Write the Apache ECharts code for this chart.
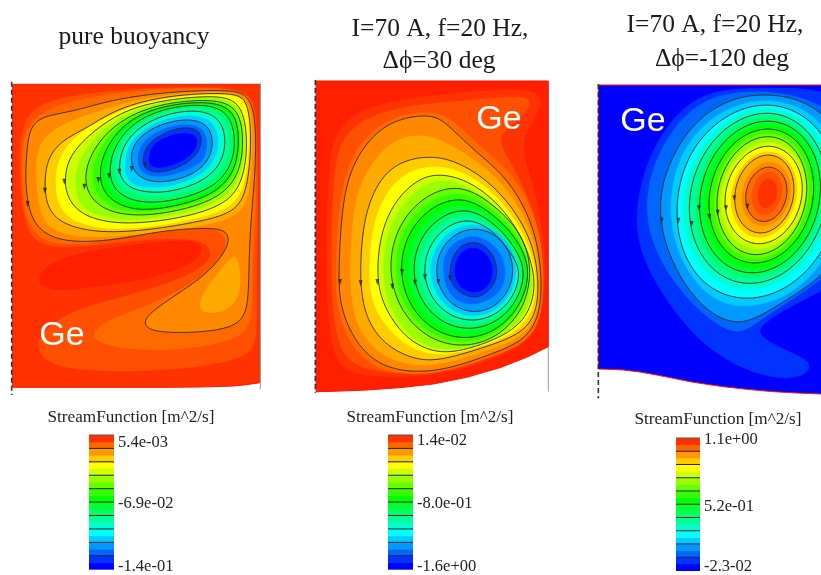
<!DOCTYPE html>
<html><head><meta charset="utf-8">
<style>html,body{margin:0;padding:0;background:#fff}#main{width:821px;height:575px;filter:blur(0.75px)}</style>
<script src="https://cdn.jsdelivr.net/npm/echarts@6/dist/echarts.min.js"></script>
</head><body><div id="main"></div>
<script>
// stream-function band palette: band index -> colour
const bandPalette=['#0000ff','#0033ff','#0066ff','#0099ff','#00ccff','#00ffff','#00ffcc','#00ff99','#00ff66','#00ff33','#00ff00','#33ff00','#66ff00','#99ff00','#ccff00','#ffff00','#ffcc00','#ffaa00','#ff8800','#ff6a00','#ff4f00','#ff3300','#ff2000'];
const colorbarBands=['#0000ff','#0033ff','#0066ff','#0099ff','#00ccff','#00ffff','#00ffcc','#00ff99','#00ff66','#00ff33','#00ff00','#33ff00','#66ff00','#99ff00','#ccff00','#ffff00','#ffcc00','#ff9900','#ff6600','#ff3300'];
const colorbarIndex=colorbarBands.map((c,i)=>i);

// outlines of the melt domain
const outline1=[[38,43],[780,43],[780,938],[740,944],[700,948],[600,951],[500,952],[38,952]];
const outline2=[[48,33],[745,33],[745,830],[680,862],[600,893],[500,922],[400,942],[300,953],[200,960],[100,964],[48,965]];
const outline3=[[25,45],[800,45],[800,978],[693,972],[620,969],[550,965],[470,958],[400,950],[350,943],[300,935],[250,925],[200,915],[150,906],[100,900],[60,898],[25,897]];
const baseLevels=[21,22,0];

// filled contours [band, isStreamline, points]
const contours1=[
[20,0,[[60,130],[180,75],[450,52],[745,48],[772,120],[776,400],[768,700],[775,840],[700,875],[500,905],[200,905],[115,860],[110,800],[200,725],[350,685],[560,625],[650,560],[610,500],[400,510],[150,545],[70,490],[58,300]]],
[22,0,[[112,615],[165,565],[330,530],[565,505],[612,525],[600,570],[485,620],[300,650],[175,665],[118,650]]],
[19,0,[[75,180],[130,115],[300,72],[500,55],[740,52],[768,110],[771,400],[755,600],[760,770],[700,815],[500,848],[300,830],[268,790],[330,745],[480,695],[640,600],[692,520],[650,465],[480,478],[280,522],[150,525],[90,480],[68,400],[64,250]]],
[18,1,[[80,250],[88,175],[125,138],[220,125],[330,90],[500,65],[700,58],[748,78],[768,150],[767,300],[752,450],[746,600],[745,725],[705,772],[600,788],[470,788],[430,768],[440,735],[520,680],[625,610],[688,530],[685,485],[640,472],[500,480],[400,500],[280,517],[170,512],[105,470],[82,400],[76,320]]],
[17,0,[[710,540],[725,620],[715,700],[650,735],[590,725],[610,660],[670,590]]],
[17,0,[[105,290],[118,205],[200,155],[290,125],[400,90],[540,68],[710,62],[752,100],[760,220],[752,350],[730,435],[610,470],[450,490],[300,505],[170,495],[115,440]]],
[16,1,[[133,360],[138,270],[185,210],[260,175],[350,115],[500,75],[700,66],[745,90],[755,210],[745,340],[715,425],[600,455],[450,480],[300,490],[190,465],[145,420]]],
[15,0,[[165,350],[170,270],[220,200],[300,150],[410,100],[560,75],[705,70],[745,100],[750,210],[738,340],[700,415],[580,450],[430,475],[310,480],[210,452],[175,405]]],
[14,1,[[192,335],[205,260],[270,190],[370,120],[500,88],[650,75],[725,95],[745,210],[730,340],[670,410],[520,450],[360,465],[250,440],[205,390]]],
[13,0,[[222,340],[235,265],[300,180],[400,118],[520,88],[640,78],[722,98],[740,210],[725,330],[660,400],[515,440],[370,455],[265,430],[235,395]]],
[12,1,[[250,345],[265,260],[330,170],[450,105],[620,85],[715,105],[733,210],[718,320],[650,390],[510,430],[380,440],[290,410]]],
[11,0,[[272,335],[285,255],[350,160],[470,105],[625,88],[710,112],[727,210],[712,315],[645,382],[515,420],[390,432],[305,400]]],
[10,1,[[295,325],[310,240],[380,150],[490,105],[630,92],[705,120],[720,210],[705,310],[640,375],[520,412],[400,425],[320,385]]],
[9,0,[[310,318],[325,235],[390,152],[495,108],[625,96],[698,125],[714,210],[700,300],[640,365],[520,403],[405,412],[332,375]]],
[8,1,[[325,310],[340,230],[400,155],[500,112],[620,100],[690,130],[708,210],[695,290],[640,355],[520,395],[410,400],[345,365]]],
[7,0,[[340,300],[355,225],[415,158],[510,118],[615,110],[678,140],[694,215],[678,290],[620,348],[510,382],[410,382],[355,350]]],
[6,1,[[355,290],[370,220],[430,160],[520,125],[610,120],[665,150],[680,220],[660,290],[600,340],[500,370],[410,365],[365,335]]],
[4,0,[[372,280],[385,220],[440,168],[525,136],[605,135],[650,165],[660,230],[635,292],[570,335],[480,355],[408,352],[378,325]]],
[3,1,[[390,270],[400,220],[450,175],[530,148],[600,150],[635,180],[640,240],[610,295],[540,330],[460,340],[405,315]]],
[2,0,[[410,270],[420,222],[470,182],[540,160],[598,165],[622,198],[622,250],[598,285],[535,312],[465,325],[420,305]]],
[1,1,[[428,270],[438,225],[490,188],[550,170],[598,178],[608,215],[588,262],[530,297],[470,310],[433,297]]],
[0,0,[[445,265],[455,225],[500,198],[555,186],[590,195],[595,228],[565,265],[515,288],[470,296],[448,285]]]
];
const contours2=[
[21,0,[[85,280],[105,180],[190,110],[350,80],[500,65],[680,55],[720,75],[725,110],[690,170],[660,230],[700,340],[735,500],[735,700],[700,810],[600,860],[480,905],[300,925],[150,915],[90,860],[75,600]]],
[20,0,[[100,300],[125,200],[210,130],[370,100],[520,90],[660,75],[695,90],[680,130],[620,175],[590,215],[650,300],[725,480],[732,700],[690,805],[590,855],[470,895],[300,915],[160,895],[105,820],[90,600]]],
[19,0,[[105,620],[115,400],[150,255],[235,160],[330,128],[410,125],[460,150],[540,230],[640,310],[710,440],[730,560],[732,720],[690,815],[585,858],[455,902],[330,918],[210,895],[135,800],[110,700]]],
[18,1,[[115,620],[125,400],[160,270],[240,170],[330,138],[400,136],[440,160],[520,240],[620,320],[690,440],[722,560],[727,720],[680,810],[580,850],[450,897],[330,910],[220,880],[150,790],[120,700]]],
[17,0,[[150,620],[155,430],[190,310],[270,210],[360,190],[430,210],[530,270],[625,355],[690,470],[718,580],[720,720],[675,800],[570,840],[440,882],[340,890],[240,860],[175,780],[155,700]]],
[16,1,[[180,600],[190,440],[240,320],[310,270],[390,258],[460,270],[550,320],[630,400],[690,500],[715,600],[715,720],[670,790],[560,830],[430,870],[350,872],[260,830],[205,760],[185,680]]],
[15,0,[[205,610],[215,465],[262,355],[332,298],[405,286],[480,300],[565,352],[640,435],[692,535],[712,630],[700,730],[640,795],[530,835],[420,860],[335,840],[258,775],[215,700]]],
[14,1,[[228,630],[240,490],[285,390],[355,325],[420,310],[500,330],[580,385],[650,470],[695,570],[708,660],[680,745],[610,800],[500,840],[410,852],[320,810],[255,720]]],
[13,0,[[245,610],[258,490],[305,405],[370,340],[430,328],[508,348],[585,405],[650,485],[692,580],[702,660],[672,745],[600,805],[495,838],[405,842],[325,800],[265,710]]],
[12,1,[[263,588],[293,464],[374,373],[485,340],[590,410],[665,490],[697,590],[677,712],[596,803],[485,836],[374,803],[293,712]]],
[11,0,[[279,591],[307,474],[385,388],[490,357],[590,425],[655,495],[693,591],[673,708],[595,794],[490,825],[385,794],[307,708]]],
[10,1,[[296,594],[323,485],[396,405],[495,376],[590,440],[650,505],[694,594],[667,703],[594,783],[495,812],[396,783],[323,703]]],
[9,0,[[315,596],[340,495],[408,420],[501,393],[590,450],[645,515],[687,596],[662,697],[594,772],[501,799],[408,772],[340,697]]],
[8,1,[[335,597],[358,504],[421,436],[507,411],[590,465],[640,525],[679,597],[656,690],[593,758],[507,783],[421,758],[358,690]]],
[7,0,[[351,598],[372,513],[431,450],[511,427],[590,478],[635,535],[671,598],[650,683],[591,746],[511,769],[431,746],[372,683]]],
[6,1,[[368,600],[388,522],[442,464],[516,443],[588,490],[630,545],[664,600],[644,678],[590,736],[516,757],[442,736],[388,678]]],
[4,0,[[386,601],[404,530],[453,477],[520,458],[587,477],[636,530],[654,601],[636,672],[587,725],[520,744],[453,725],[404,672]]],
[3,1,[[405,601],[421,537],[465,489],[524,472],[583,489],[627,537],[643,601],[627,665],[583,713],[524,730],[465,713],[421,665]]],
[2,0,[[428,610],[430,565],[448,530],[478,508],[515,495],[555,505],[592,535],[612,570],[618,610],[610,650],[585,680],[545,700],[505,705],[468,692],[440,660]]],
[1,1,[[448,625],[452,575],[470,540],[495,520],[525,515],[560,528],[585,565],[592,605],[585,640],[560,670],[525,685],[490,675],[462,652]]],
[0,0,[[462,605],[468,568],[490,540],[522,530],[552,542],[575,575],[580,605],[572,638],[550,662],[520,670],[488,658],[470,635]]]
];
const contours3=[
[1,0,[[135,470],[150,330],[210,190],[300,90],[400,55],[560,52],[760,60],[800,200],[800,600],[693,665],[600,710],[520,760],[500,790],[560,830],[650,865],[665,895],[630,925],[540,925],[430,885],[320,810],[220,680],[160,570]]],
[2,0,[[165,450],[175,320],[235,190],[320,100],[420,65],[560,62],[700,100],[800,190],[800,540],[693,630],[590,700],[510,750],[460,790],[400,780],[300,700],[210,580]]],
[3,1,[[208,420],[218,330],[265,220],[340,130],[440,80],[530,72],[620,84],[700,130],[760,200],[790,330],[780,500],[700,620],[590,690],[500,745],[440,762],[370,738],[290,660],[224,530]]],
[4,0,[[232,395],[272,235],[385,118],[528,80],[665,118],[750,235],[770,395],[722,555],[610,680],[455,722],[345,680],[258,555]]],
[5,1,[[253,395],[294,244],[399,133],[530,92],[653,133],[736,244],[755,395],[706,546],[601,657],[470,698],[347,657],[270,546]]],
[6,0,[[271,387],[316,246],[412,142],[531,104],[644,142],[718,246],[735,387],[690,528],[594,632],[475,670],[362,632],[288,528]]],
[7,1,[[290,385],[332,252],[421,154],[532,118],[635,154],[704,252],[720,385],[678,518],[589,616],[478,652],[375,616],[306,518]]],
[8,0,[[310,383],[349,257],[428,165],[532,131],[628,165],[691,257],[704,383],[665,509],[586,601],[482,635],[386,601],[323,509]]],
[9,1,[[322,381],[359,262],[437,175],[534,143],[625,175],[685,262],[698,381],[661,500],[583,587],[486,619],[395,587],[335,500]]],
[10,0,[[340,380],[374,268],[445,185],[534,155],[617,185],[672,268],[684,380],[650,492],[579,575],[490,605],[407,575],[352,492]]],
[11,1,[[351,378],[383,273],[450,196],[535,168],[613,196],[665,273],[677,378],[645,483],[577,560],[493,588],[414,560],[363,483]]],
[12,0,[[368,378],[398,280],[458,208],[535,181],[606,208],[652,280],[662,378],[632,476],[572,548],[495,575],[424,548],[378,476]]],
[13,1,[[376,377],[404,285],[462,217],[534,192],[602,217],[646,285],[655,377],[628,469],[570,537],[497,562],[430,537],[386,469]]],
[14,0,[[387,377],[413,293],[468,232],[537,209],[601,232],[644,293],[653,377],[627,461],[572,522],[503,545],[439,522],[396,461]]],
[15,1,[[401,375],[425,299],[474,243],[536,222],[594,243],[633,299],[641,375],[617,451],[568,507],[506,528],[448,507],[409,451]]],
[16,0,[[419,374],[440,307],[483,257],[535,239],[586,257],[618,307],[625,374],[604,441],[561,491],[508,509],[459,491],[426,441]]],
[17,1,[[431,372],[449,311],[488,266],[535,250],[580,266],[609,311],[615,372],[597,433],[558,478],[511,494],[466,478],[437,433]]],
[18,0,[[453,372],[468,322],[500,285],[539,272],[576,285],[600,322],[605,372],[590,422],[558,459],[519,472],[482,459],[458,422]]],
[19,1,[[465,373],[478,330],[504,299],[537,288],[568,299],[589,330],[593,373],[580,415],[554,447],[520,458],[490,447],[469,415]]],
[20,0,[[482,370],[495,336],[512,311],[537,302],[561,311],[575,336],[578,370],[565,404],[548,429],[523,438],[499,429],[486,404]]],
[21,0,[[502,370],[510,347],[521,330],[537,324],[551,330],[560,347],[562,370],[556,393],[543,410],[527,416],[513,410],[504,393]]]
];

// flow-direction arrows on the streamlines
const arrows1=[[83,402],[135,362],[193,335],[253,350],[295,330],[327,318],[358,305],[395,297],[435,285]];
const arrows2=[[120,636],[182,640],[232,636],[277,650],[306,606],[345,638],[375,622],[415,636],[450,625]];
const arrows3=[[215,452],[265,452],[305,462],[327,415],[358,440],[383,428],[408,415],[433,385],[472,410]];

// solid/dashed walls
const leftWall1=[[35,35],[35,975]], rightWall1=[[781,38],[781,958]];
const leftWall2=[[46,30],[46,968]], rightWall2=[[745,830],[745,965]];
const leftWall3=[[25,42],[25,985]];

const panelTitles=[['pure buoyancy'],['I=70 A, f=20 Hz,','Δϕ=30 deg'],['I=70 A, f=20 Hz,','Δϕ=-120 deg']];
const barTitle='StreamFunction [m^2/s]';
const barTickValues=[[0.4,9.8,18.8],[0.4,9.7,19.1],[0.6,9.7,19.7]];
const barTickLabels=[['-1.4e-01','-6.9e-02','5.4e-03'],['-1.6e+00','-8.0e-01','1.4e-02'],['-2.3-02','5.2e-01','1.1e+00']];
const materialLabel='Ge';

const SERIF='"Liberation Serif","Times New Roman",serif';
const panels=[
 {rect:[0,70,275,330],xMax:825,outline:outline1,contours:contours1,arrows:arrows1,walls:[leftWall1],grey:[rightWall1]},
 {rect:[300,70,260,330],xMax:780,outline:outline2,contours:contours2,arrows:arrows2,walls:[leftWall2],grey:[rightWall2]},
 {rect:[590,70,231,330],xMax:693,outline:outline3,contours:contours3,arrows:arrows3,walls:[leftWall3],grey:[]}
];
const barRects=[[89,435,25,138],[388,435,25,138],[676,438,24,138]];

// closed cubic B-spline subdivision, drawing only: turns a traced contour into a smooth curve
function smoothClosed(pts){
 let p=pts;
 for(let it=0;it<3;it++){
  const n=p.length,o=[];
  for(let i=0;i<n;i++){
   const a=p[(i+n-1)%n],b=p[i],c=p[(i+1)%n];
   o.push([(a[0]+6*b[0]+c[0])/8,(a[1]+6*b[1]+c[1])/8]);
   o.push([(b[0]+c[0])/2,(b[1]+c[1])/2]);
  }
  p=o;
 }
 return p;
}

const grid=[],xAxis=[],yAxis=[],series=[],title=[];
panels.forEach((p,i)=>{
 grid.push({left:p.rect[0],top:p.rect[1],width:p.rect[2],height:p.rect[3],show:false});
 xAxis.push({type:'value',gridIndex:i,min:0,max:p.xMax,show:false});
 yAxis.push({type:'value',gridIndex:i,min:0,max:990,inverse:true,show:false});
 series.push({type:'custom',xAxisIndex:i,yAxisIndex:i,clip:true,z:2,silent:true,data:[[0]],
  renderItem:(pr,api)=>({type:'polygon',shape:{points:p.outline.map(q=>api.coord(q))},
   style:{fill:bandPalette[baseLevels[i]],stroke:'#ff1500',lineWidth:1}})});
 const curves=p.contours.map(c=>smoothClosed(c[2]));
 series.push({type:'custom',xAxisIndex:i,yAxisIndex:i,clip:true,z:3,silent:true,
  data:p.contours.map((c,k)=>[k]),
  renderItem:(pr,api)=>({type:'polygon',shape:{points:curves[pr.dataIndex].map(q=>api.coord(q))},
   style:{fill:bandPalette[p.contours[pr.dataIndex][0]]}})});
 const lineIdx=p.contours.map((c,k)=>c[1]?k:-1).filter(k=>k>=0);
 series.push({type:'custom',xAxisIndex:i,yAxisIndex:i,clip:true,z:4,silent:true,
  data:lineIdx.map((c,k)=>[k]),
  renderItem:(pr,api)=>({type:'polygon',shape:{points:curves[lineIdx[pr.dataIndex]].map(q=>api.coord(q))},
   style:{fill:null,stroke:'#2e2e14',lineWidth:0.9}})});
 series.push({type:'scatter',xAxisIndex:i,yAxisIndex:i,z:5,silent:true,symbol:'triangle',symbolSize:[4,6],symbolRotate:180,
  itemStyle:{color:'#222'},data:p.arrows});
 p.walls.forEach(w=>series.push({type:'line',xAxisIndex:i,yAxisIndex:i,z:5,silent:true,symbol:'none',data:w,
  lineStyle:{color:'#333',width:1.6,type:[5,3]}}));
 p.grey.forEach(w=>series.push({type:'line',xAxisIndex:i,yAxisIndex:i,z:5,silent:true,symbol:'none',data:w,
  lineStyle:{color:'#999',width:1}}));
});
barRects.forEach((r,b)=>{
 const gi=3+b;
 grid.push({left:r[0],top:r[1],width:r[2],height:r[3],show:false});
 xAxis.push({type:'value',gridIndex:gi,min:0,max:1,show:false});
 yAxis.push({type:'value',gridIndex:gi,min:0,max:20,position:'right',
  axisLine:{show:false},axisTick:{show:false},splitLine:{show:false},
  axisLabel:{customValues:barTickValues[b],margin:4,color:'#222',fontFamily:SERIF,fontSize:16.5,showMinLabel:true,showMaxLabel:true,
   formatter:v=>barTickLabels[b][barTickValues[b].indexOf(v)]}});
 series.push({type:'custom',xAxisIndex:gi,yAxisIndex:gi,z:2,silent:true,clip:false,
  data:colorbarIndex.map(v=>[v]),
  renderItem:(pr,api)=>{const v=api.value(0),a=api.coord([0,v+1]),c=api.coord([1,v]);
   const kids=[{type:'rect',shape:{x:a[0],y:a[1],width:c[0]-a[0],height:c[1]-a[1]+0.5},style:{fill:colorbarBands[v]}}];
   if((v+1)%2===0&&v<19)kids.push({type:'line',shape:{x1:a[0],y1:a[1],x2:c[0],y2:a[1]},style:{stroke:'#222',lineWidth:1},z2:5});
   if(v===19)kids.push({type:'line',shape:{x1:a[0],y1:a[1],x2:c[0],y2:a[1]},style:{stroke:'#555',lineWidth:1},z2:5});
   return {type:'group',children:kids};}});
});
const addText=(text,x,y,size,family,color,z)=>title.push({text,left:x,top:y-size/2+1,padding:0,textAlign:'center',z:z||6,
 textStyle:{fontFamily:family,fontSize:size,fontWeight:'normal',color}});
addText(panelTitles[0][0],134,36,25.5,SERIF,'#1a1a1a');
addText(panelTitles[1][0],440,28,25.5,SERIF,'#1a1a1a');
addText(panelTitles[1][1],439,60,25.5,SERIF,'#1a1a1a');
addText(panelTitles[2][0],715,24,25.5,SERIF,'#1a1a1a');
addText(panelTitles[2][1],722,58,25.5,SERIF,'#1a1a1a');
addText(barTitle,131,417,17.2,SERIF,'#222');
addText(barTitle,430,417,17.2,SERIF,'#222');
addText(barTitle,718,419,17.2,SERIF,'#222');
addText(materialLabel,62,335,34,'"Liberation Sans",Arial,sans-serif','#fff',20);
addText(materialLabel,499,119,34,'"Liberation Sans",Arial,sans-serif','#fff',20);
addText(materialLabel,643,121,34,'"Liberation Sans",Arial,sans-serif','#fff',20);

const chart=echarts.init(document.getElementById('main'));
chart.setOption({animation:false,backgroundColor:'#fff',title,grid,xAxis,yAxis,series});
</script></body></html>
